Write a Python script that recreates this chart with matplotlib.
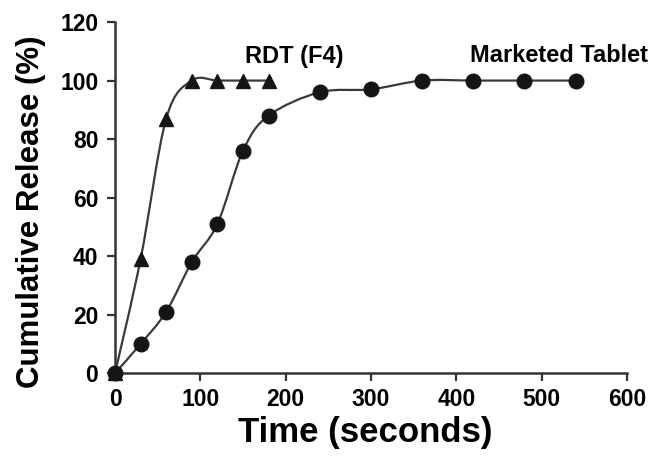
import matplotlib.pyplot as plt
from matplotlib.path import Path
from matplotlib.patches import PathPatch

plt.rcParams['font.family'] = ['Liberation Sans', 'DejaVu Sans']
plt.rcParams['font.weight'] = 'bold'

# RDT (F4) release data
rdt_time = [0, 30, 60, 90, 120, 150, 180]
rdt_release = [0, 39, 87, 100, 100, 100, 100]

# Marketed tablet release data
mkt_time = [0, 30, 60, 90, 120, 150, 180, 240, 300, 360, 420, 480, 540]
mkt_release = [0, 10, 21, 38, 51, 76, 88, 96, 97, 100, 100, 100, 100]

x_ticks = [0, 100, 200, 300, 400, 500, 600]
y_ticks = [0, 20, 40, 60, 80, 100, 120]

line_col = '#3a3a3a'
mark_col = '#151515'


def smooth_path(xs, ys):
    # Catmull-Rom style bezier through the points (drawing only)
    pts = list(zip(xs, ys))
    verts = [pts[0]]
    codes = [Path.MOVETO]
    n = len(pts)
    for i in range(n - 1):
        p0 = pts[i - 1] if i > 0 else pts[i]
        p1 = pts[i]
        p2 = pts[i + 1]
        p3 = pts[i + 2] if i + 2 < n else pts[i + 1]
        c1 = (p1[0] + (p2[0] - p0[0]) / 6, p1[1] + (p2[1] - p0[1]) / 6)
        c2 = (p2[0] - (p3[0] - p1[0]) / 6, p2[1] - (p3[1] - p1[1]) / 6)
        verts += [c1, c2, p2]
        codes += [Path.CURVE4] * 3
    return Path(verts, codes)


fig = plt.figure(figsize=(6.63, 4.59), dpi=100)
ax = fig.add_axes([0.1735, 0.187, 0.772, 0.765])

ax.add_patch(PathPatch(smooth_path(rdt_time, rdt_release), fill=False,
                       edgecolor=line_col, lw=1.6, zorder=2))
ax.add_patch(PathPatch(smooth_path(mkt_time, mkt_release), fill=False,
                       edgecolor=line_col, lw=1.6, zorder=2))
ax.plot(rdt_time, rdt_release, linestyle='none', marker='^', markersize=10,
        color=mark_col, zorder=3, clip_on=False)
ax.plot(mkt_time, mkt_release, linestyle='none', marker='o', markersize=10.5,
        color=mark_col, zorder=3, clip_on=False)

ax.text(210, 108.3, 'RDT (F4)', ha='center', va='center', fontsize=17, fontweight='bold')
ax.text(520, 108.5, 'Marketed Tablet', ha='center', va='center', fontsize=17, fontweight='bold')

ax.set_xlim(0, 600)
ax.set_ylim(0, 120)
ax.set_xticks(x_ticks)
ax.set_yticks(y_ticks)
ax.spines['top'].set_visible(False)
ax.spines['right'].set_visible(False)
for s in ['left', 'bottom']:
    ax.spines[s].set_linewidth(1.8)
    ax.spines[s].set_color('#333333')
ax.tick_params(width=1.6, length=6, color='#333333', labelsize=16.5)
ax.tick_params(axis='y', pad=6)
ax.tick_params(axis='x', pad=5)
for lab in ax.get_xticklabels() + ax.get_yticklabels():
    lab.set_fontweight('bold')

ax.set_xlabel('Time (seconds)', fontsize=25, fontweight='bold', labelpad=3)
ax.set_ylabel('Cumulative Release (%)', fontsize=22.5, fontweight='bold', labelpad=10)
ax.xaxis.label.set_x(0.488)
ax.yaxis.label.set_y(0.46)

plt.savefig('out.png', dpi=100)
